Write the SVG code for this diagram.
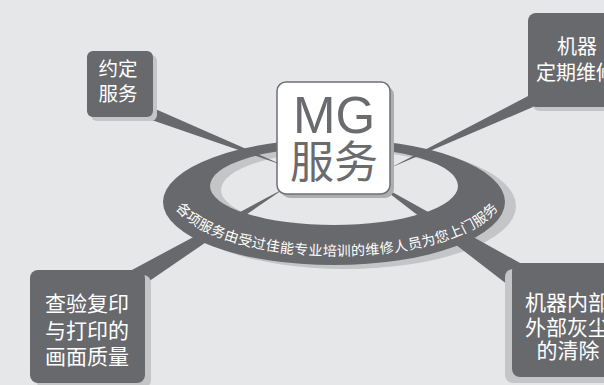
<svg xmlns="http://www.w3.org/2000/svg" width="604" height="385" viewBox="0 0 604 385">
<style>
.bg{fill:#e6e7e9}
.dark{fill:#68696c}
.shadow{fill:#c4c5c7}
.node-text{font-family:"Noto Sans CJK SC","Noto Sans",sans-serif;fill:#ffffff;text-anchor:middle}
.ring-text{font-family:"Noto Sans CJK SC","Noto Sans",sans-serif;fill:#ffffff;font-size:14px;letter-spacing:0.4px}
.center-text{fill:#6a6b6e;text-anchor:middle}
</style>
<defs>
<path id="ringShape" d="M163,202 A171,63 0 1,0 505,202 A171,63 0 1,0 163,202 Z M210,186 A124,39 0 1,0 458,186 A124,39 0 1,0 210,186 Z"/>
<path id="textArc" d="M171,193 A166,63 0 0,0 503,193"/>
</defs>
<rect class="bg" x="0" y="0" width="604" height="385"/>

<g id="ring-shadow">
<use href="#ringShape" class="shadow" fill-rule="evenodd" transform="translate(11,4)"/>
</g>

<g id="connectors" class="dark">
<polygon points="153,108 143,117 285,166"/>
<polygon points="530,95 533,107 390,168"/>
<polygon points="130,271 145,284 285,188"/>
<polygon points="385,188 520,263 508,285 385,190"/>
</g>

<g id="ring">
<use href="#ringShape" class="dark" fill-rule="evenodd"/>
<text class="ring-text"><textPath href="#textArc" startOffset="50%" text-anchor="middle">各项服务由受过佳能专业培训的维修人员为您上门服务</textPath></text>
</g>

<g id="node-center">
<rect x="281" y="86" width="113" height="112" rx="9" fill="#adaeb0"/>
<rect x="277" y="82" width="113" height="112" rx="9" fill="#ffffff" stroke="#6f7073" stroke-width="1.5"/>
<text class="center-text" x="334" y="133" font-family="Liberation Sans, Arial, sans-serif" font-size="51">MG</text>
<text class="center-text" x="334" y="178" font-family="Noto Sans CJK SC, sans-serif" font-size="44">服务</text>
</g>

<g id="node-yueding">
<rect class="shadow" x="91" y="55" width="66" height="66" rx="6"/>
<rect class="dark" x="87" y="51" width="66" height="66" rx="6"/>
<text class="node-text" font-size="19.5"><tspan x="118" y="76">约定</tspan><tspan x="118" y="101">服务</tspan></text>
</g>

<g id="node-dingqi">
<rect class="shadow" x="532" y="17" width="100" height="94" rx="8"/>
<rect class="dark" x="528" y="13" width="100" height="94" rx="8"/>
<text class="node-text" font-size="20"><tspan x="577" y="54">机器</tspan><tspan x="576" y="80">定期维修</tspan></text>
</g>

<g id="node-chayan">
<rect class="shadow" x="36" y="275" width="115" height="113" rx="8"/>
<rect class="dark" x="30" y="270" width="115" height="113" rx="8"/>
<text class="node-text" font-size="21"><tspan x="87" y="311">查验复印</tspan><tspan x="87" y="337.5">与打印的</tspan><tspan x="87" y="364">画面质量</tspan></text>
</g>

<g id="node-qingchu">
<rect class="shadow" x="505" y="269" width="115" height="114" rx="8"/>
<rect class="dark" x="512" y="263" width="115" height="114" rx="8"/>
<text class="node-text" font-size="21"><tspan x="567" y="310">机器内部</tspan><tspan x="567" y="335">外部灰尘</tspan><tspan x="568" y="358">的清除</tspan></text>
</g>
</svg>
